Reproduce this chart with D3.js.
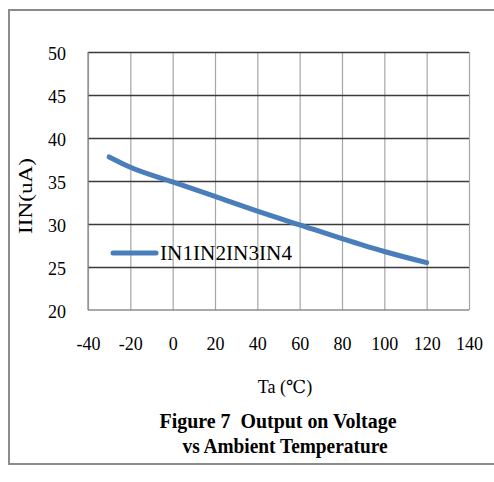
<!DOCTYPE html>
<html>
<head>
<meta charset="utf-8">
<script src="https://cdn.jsdelivr.net/npm/d3@7"></script>
<style>
  html, body { margin: 0; padding: 0; background: #fff; }
  svg { display: block; }
  text { font-family: "Liberation Serif", "DejaVu Serif", serif; fill: #000; white-space: pre; }
</style>
</head>
<body>
<svg id="chart" width="494" height="482"></svg>
<script>
// Input current vs ambient temperature
const temperatures = [-30, -20, 0, 20, 40, 60, 80, 100, 120];
const currents = [37.8, 36.6, 34.9, 33.2, 31.5, 29.9, 28.3, 26.8, 25.5];
const seriesName = "IN1IN2IN3IN4";
const xTicks = [-40, -20, 0, 20, 40, 60, 80, 100, 120, 140];
const yTicks = [20, 25, 30, 35, 40, 45, 50];
const xTitle = "Ta (℃)";
const yTitle = "IIN(uA)";
const titleLines = ["Figure 7  Output on Voltage", "vs Ambient Temperature"];

const svg = d3.select("#chart");
const serif = "Liberation Serif, DejaVu Serif, serif";

// frame
svg.append("rect")
  .attr("x", 9).attr("y", 10).attr("width", 500).attr("height", 454)
  .attr("fill", "#fff").attr("stroke", "#8c8c8c").attr("stroke-width", 2);

const plot = { left: 88, right: 469, top: 52, bottom: 310 };
const x = d3.scaleLinear().domain([-40, 140]).range([plot.left, plot.right]);
const y = d3.scaleLinear().domain([20, 50]).range([plot.bottom, plot.top]);

// vertical grid (light)
const xGrid = svg.append("g")
  .attr("transform", `translate(0,${plot.bottom})`)
  .call(d3.axisBottom(x).tickValues(xTicks).tickSize(-(plot.bottom - plot.top)).tickFormat(""));
xGrid.select(".domain").remove();
xGrid.selectAll("line").attr("stroke", "#a6a6a6").attr("stroke-width", 1.2);

// horizontal grid (dark)
const yGrid = svg.append("g")
  .attr("transform", `translate(${plot.left},0)`)
  .call(d3.axisLeft(y).tickValues(yTicks.filter(v => v > 20)).tickSize(-(plot.right - plot.left)).tickFormat(""));
yGrid.select(".domain").remove();
yGrid.selectAll("line").attr("stroke", "#3a3a3a").attr("stroke-width", 1.3);

// axis lines
svg.append("line")
  .attr("x1", plot.left).attr("x2", plot.left).attr("y1", plot.top).attr("y2", plot.bottom)
  .attr("stroke", "#8c8c8c").attr("stroke-width", 1.3);
svg.append("line")
  .attr("x1", plot.left).attr("x2", plot.right).attr("y1", y(20)).attr("y2", y(20))
  .attr("stroke", "#8c8c8c").attr("stroke-width", 1.3);

// y tick labels
const yAxis = svg.append("g")
  .attr("transform", `translate(${plot.left},0)`)
  .attr("font-family", serif)
  .call(d3.axisLeft(y).tickValues(yTicks).tickSize(0).tickPadding(22).tickFormat(d => String(d)));
yAxis.select(".domain").remove();
yAxis.selectAll("text")
  .attr("font-size", 18).attr("dy", "0.42em").attr("fill", "#000");

// x tick labels
const xAxis = svg.append("g")
  .attr("transform", `translate(0,${plot.bottom})`)
  .attr("font-family", serif)
  .call(d3.axisBottom(x).tickValues(xTicks).tickSize(0).tickPadding(32).tickFormat(d => String(d)));
xAxis.select(".domain").remove();
xAxis.selectAll("text")
  .attr("font-size", 18).attr("dy", "0.45em").attr("fill", "#000");

// series
const line = d3.line()
  .x((d, i) => x(temperatures[i]))
  .y(d => y(d))
  .curve(d3.curveMonotoneX);
svg.append("path")
  .datum(currents)
  .attr("d", line)
  .attr("fill", "none")
  .attr("stroke", "#4a7ebb")
  .attr("stroke-width", 5)
  .attr("stroke-linecap", "round");

// legend
svg.append("line")
  .attr("x1", 113).attr("x2", 156).attr("y1", 253).attr("y2", 253)
  .attr("stroke", "#4a7ebb").attr("stroke-width", 5).attr("stroke-linecap", "round");
svg.append("text")
  .attr("x", 160).attr("y", 260)
  .attr("font-size", 20)
  .attr("textLength", 132).attr("lengthAdjust", "spacingAndGlyphs")
  .text(seriesName);

// axis titles
svg.append("text")
  .attr("transform", "translate(32,196) rotate(-90)")
  .attr("text-anchor", "middle")
  .attr("font-size", 19)
  .attr("textLength", 76).attr("lengthAdjust", "spacingAndGlyphs")
  .text(yTitle);
svg.append("text")
  .attr("x", 285).attr("y", 393)
  .attr("text-anchor", "middle")
  .attr("font-size", 18)
  .text(xTitle);

// chart title
svg.append("text")
  .attr("x", 278).attr("y", 428)
  .attr("text-anchor", "middle")
  .attr("font-size", 20).attr("font-weight", "bold")
  .attr("textLength", 237).attr("lengthAdjust", "spacingAndGlyphs")
  .text(titleLines[0]);
svg.append("text")
  .attr("x", 285).attr("y", 453)
  .attr("text-anchor", "middle")
  .attr("font-size", 20).attr("font-weight", "bold")
  .attr("textLength", 205).attr("lengthAdjust", "spacingAndGlyphs")
  .text(titleLines[1]);
</script>
</body>
</html>
